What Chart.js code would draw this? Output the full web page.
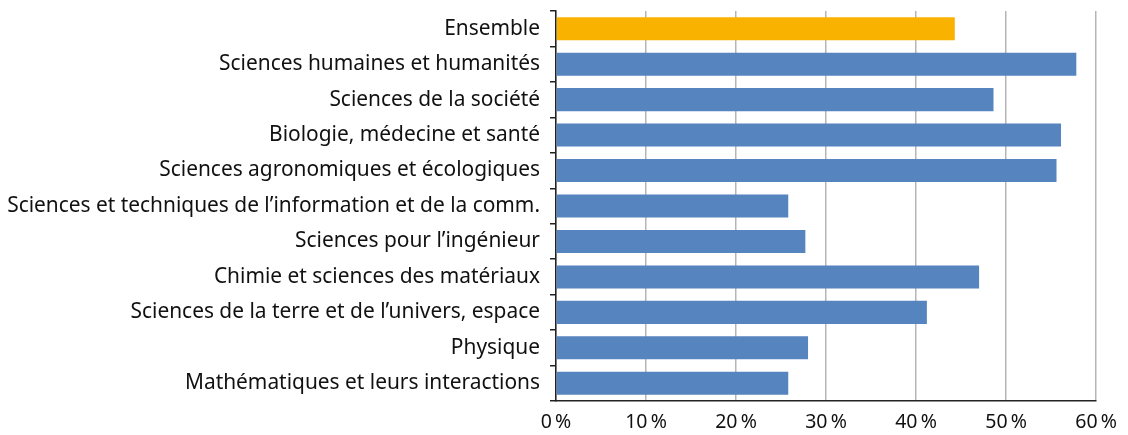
<!DOCTYPE html>
<html>
<head>
<meta charset="utf-8">
<script src="https://cdn.jsdelivr.net/npm/chart.js@4"></script>
<style>
  html, body { margin: 0; padding: 0; background: #fff; }
  #wrap { width: 1128px; height: 435px; position: relative; }
</style>
</head>
<body>
<div id="wrap"><canvas id="chart"></canvas></div>
<script>
const categories = [
  'Ensemble',
  'Sciences humaines et humanités',
  'Sciences de la société',
  'Biologie, médecine et santé',
  'Sciences agronomiques et écologiques',
  'Sciences et techniques de l’information et de la comm.',
  'Sciences pour l’ingénieur',
  'Chimie et sciences des matériaux',
  'Sciences de la terre et de l’univers, espace',
  'Physique',
  'Mathématiques et leurs interactions'
];
const values = [44.3, 57.8, 48.6, 56.1, 55.6, 25.8, 27.7, 47.0, 41.2, 28.0, 25.8];
const barColors = ['#fab200', '#5584be', '#5584be', '#5584be', '#5584be', '#5584be',
  '#5584be', '#5584be', '#5584be', '#5584be', '#5584be'];
const xTicks = [0, 10, 20, 30, 40, 50, 60];

const ctx = document.getElementById('chart').getContext('2d');
new Chart(ctx, {
  type: 'bar',
  data: {
    labels: categories,
    datasets: [{
      data: values,
      backgroundColor: barColors,
      borderWidth: 0,
      barPercentage: 1,
      categoryPercentage: 0.65
    }]
  },
  options: {
    indexAxis: 'y',
    responsive: true,
    maintainAspectRatio: false,
    animation: false,
    layout: { padding: { top: 11, right: 30, bottom: 0, left: 0 } },
    plugins: {
      legend: { display: false },
      tooltip: { enabled: false }
    },
    scales: {
      x: {
        min: 0,
        max: 60,
        afterBuildTicks: axis => { axis.ticks = xTicks.map(v => ({ value: v })); },
        afterFit: s => { s.height = 34; },
        border: { color: '#222', width: 1.5 },
        grid: { color: '#b5b5b5', lineWidth: 1.5, drawTicks: false },
        ticks: {
          color: '#111',
          padding: 11,
          font: { family: 'Noto Sans', size: 19.5, lineHeight: 1.1 },
          callback: v => v + '\u202f%'
        }
      },
      y: {
        afterFit: s => { s.width = 556; s.paddingTop = 0; s.paddingBottom = 0; },
        border: { color: '#222', width: 1.5 },
        grid: { offset: true, drawOnChartArea: false, color: '#222', lineWidth: 1.5, tickLength: 6 },
        ticks: {
          color: '#111',
          padding: 10,
          font: { family: 'Noto Sans', size: 20.9 }
        }
      }
    }
  }
});
</script>
</body>
</html>
